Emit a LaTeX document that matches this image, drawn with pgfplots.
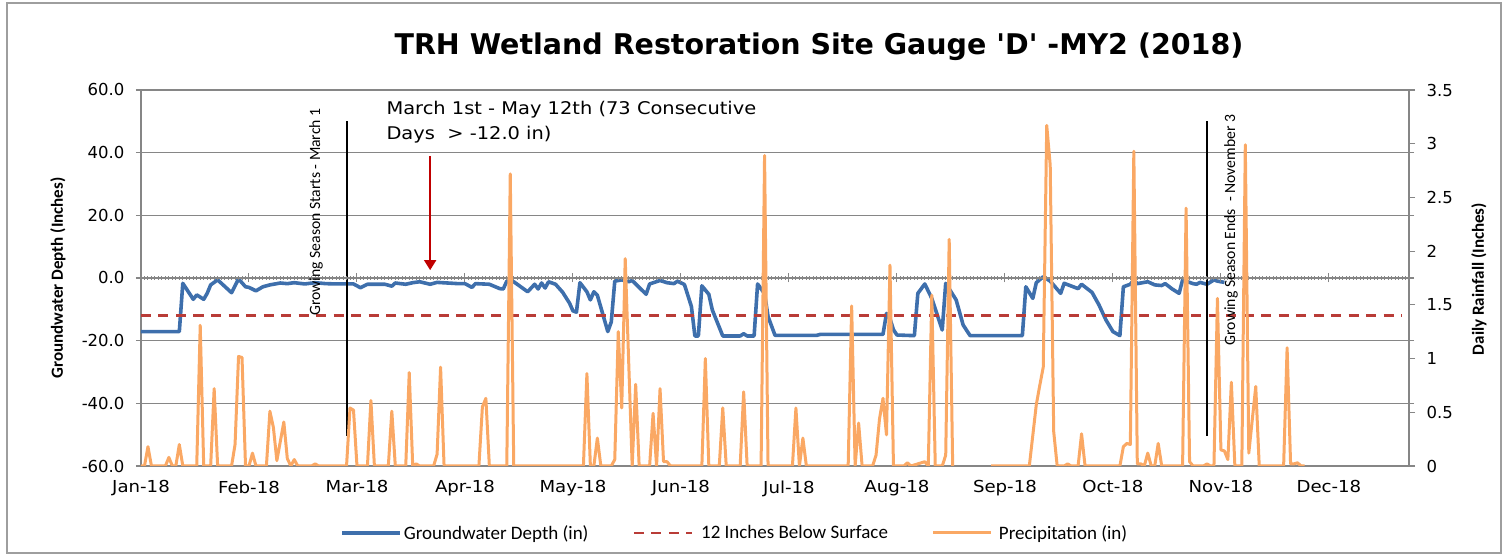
\documentclass[border=0pt]{standalone}
\usepackage{fontspec}
\setmainfont{DejaVu Sans}
\newfontfamily\calfont{Carlito}
\usepackage{pgfplots}
\usepackage{pgfplotstable}
\pgfplotsset{compat=1.18}
\usetikzlibrary{arrows.meta}
\definecolor{gwblue}{RGB}{62,111,172}
\definecolor{dred}{RGB}{185,60,55}
\definecolor{rain}{RGB}{250,168,100}
\definecolor{gridgrey}{RGB}{134,134,134}
\definecolor{arrowred}{RGB}{192,0,0}
\newcommand\tickfont{\fontsize{16.5}{20}\selectfont}
\newcommand\xl[1]{\scalebox{1.1}[1]{#1}}

\pgfplotstableread{
d v
0 -17.1
11 -17.1
12 -1.7
15 -6.8
16 -5.4
18 -6.8
19 -4.9
20 -2.2
22 -0.6
26 -4.7
28 -0.3
30 -2.8
31 -3.0
33 -4.1
35 -2.8
37 -2.2
40 -1.6
42 -1.8
44 -1.5
47 -1.9
50 -1.5
53 -1.8
56 -1.9
59 -1.9
61 -1.9
63 -3.1
65 -2.0
70 -2.0
72 -2.6
73 -1.6
76 -2.0
78 -1.5
80 -1.2
83 -2.0
85 -1.4
88 -1.6
91 -1.8
93 -1.8
95 -3.0
96 -1.8
100 -2.0
103 -3.4
104 -3.5
105 -1.0
107 -1.2
111 -4.4
113 -2.0
114 -3.5
115 -1.6
116 -3.2
117 -1.2
119 -2.0
121 -4.5
123 -8.0
124 -10.5
125 -10.9
126 -1.5
128 -4.4
129 -7.0
130 -4.4
131 -5.5
134 -17.1
135 -14.0
136 -1.0
138 -0.6
140 -1.2
141 -0.8
143 -3.0
145 -5.2
146 -1.9
149 -0.8
151 -1.5
153 -1.8
154 -1.0
156 -2.1
158 -9.1
159 -18.5
160 -18.5
161 -2.5
163 -5.2
164 -10.2
167 -18.5
172 -18.5
173 -17.8
174 -18.5
176 -18.5
177 -1.9
179 -5.0
180 -12.3
182 -18.3
194 -18.3
195 -18.0
213 -18.0
214 -11.3
215 -13.0
216 -16.5
217 -18.2
222 -18.4
223 -4.9
225 -1.9
227 -6.5
230 -16.6
231 -1.7
234 -7.0
236 -15.0
238 -18.4
253 -18.4
254 -2.8
256 -6.5
257 -1.5
259 0.4
261 -1.0
264 -4.9
265 -1.7
269 -3.4
270 -2.0
273 -4.6
275 -8.6
277 -13.4
279 -17.1
281 -18.4
282 -2.8
284 -2.0
285 -0.6
286 -1.8
289 -1.2
291 -2.2
293 -2.4
294 -1.8
296 -3.5
298 -4.9
299 -0.6
302 -1.8
303 -2.0
304 -1.4
306 -2.0
308 -0.6
309 -1.0
311 -1.4
}\gwdata

\pgfplotstableread{
d v
0 0
1 0
2 0.18
3 0
7 0
8 0.08
9 0
10 0
11 0.20
12 0
16 0
17 1.31
18 0
20 0
21 0.72
22 0
26 0
27 0.20
28 1.02
29 1.01
30 0
31 0
32 0.12
33 0
36 0
37 0.51
38 0.36
39 0.05
41 0.41
42 0.07
43 0
44 0.06
45 0
49 0
50 0.02
51 0
59 0
60 0.54
61 0.52
62 0
65 0
66 0.61
67 0
71 0
72 0.51
73 0
76 0
77 0.87
78 0
79 0.02
80 0
84 0
85 0.11
86 0.92
87 0
97 0
98 0.55
99 0.63
100 0
105 0
106 2.72
107 0
127 0
128 0.86
129 0
130 0
131 0.26
132 0
135 0
136 0.06
137 1.25
138 0.54
139 1.93
141 0
142 0.76
143 0
146 0
147 0.49
148 0
149 0.72
150 0.04
151 0.04
152 0
161 0
162 1.00
163 0
166 0
167 0.54
168 0
172 0
173 0.69
174 0
178 0
179 2.89
180 0
187 0
188 0.54
189 0
190 0.26
191 0
203 0
204 1.49
205 0
206 0.40
207 0
210 0
211 0.10
212 0.44
213 0.63
214 0.29
215 1.87
216 0
219 0
220 0.03
221 0
225 0.04
226 0
227 1.59
228 0
230 0
231 0.10
232 2.11
233 0
238 nan
244 0
255 0
257 0.57
258 0.75
259 0.92
260 3.17
261 2.80
262 0.32
263 0
265 0
266 0.02
267 0
269 0
270 0.30
271 0
281 0
282 0.18
283 0.21
284 0.20
285 2.93
286 0.02
287 0.02
288 0
289 0.12
290 0
291 0
292 0.21
293 0
299 0
300 2.40
301 0.04
302 0
305 0
306 0.02
307 0
308 0
309 1.56
310 0.15
311 0.14
312 0.06
313 0.78
314 0
316 0
317 2.99
318 0.12
320 0.74
321 0
328 0
329 1.10
330 0.02
331 0.02
332 0.03
333 0
334 0
}\raindata

\pgfplotsset{
  base/.style={width=1268pt, height=376pt, scale only axis,
    xmin=0, xmax=364, at={(0pt,0pt)}, anchor=south west},
}

\begin{document}
\begin{tikzpicture}[x=1pt,y=1pt]
\useasboundingbox (-141,-90) rectangle (1367,466);
\draw[gridgrey!80, line width=1.5pt] (-134,-87) rectangle (1360,463);

% main axis: grid, left scale, groundwater, threshold
\begin{axis}[base,
  ymin=-60, ymax=60,
  ytick={-60,-40,...,60},
  ymajorgrids, grid style={gridgrey, line width=1.3pt},
  axis line style={gridgrey, line width=1.3pt},
  xtick={0,31,62,93,124,155,186,217,248,279,310,341},
  xticklabels={\xl{Jan-18},\xl{Feb-18},\xl{Mar-18},\xl{Apr-18},\xl{May-18},\xl{Jun-18},\xl{Jul-18},\xl{Aug-18},\xl{Sep-18},\xl{Oct-18},\xl{Nov-18},\xl{Dec-18}},
  xtick style={draw=none},
  ytick style={gridgrey, line width=1.2pt},
  tick align=outside, major tick length=5pt,
  yticklabel style={font=\tickfont, xshift=-8pt,
    /pgf/number format/.cd, fixed, fixed zerofill, precision=1, assume math mode=true},
  xticklabel style={font=\tickfont, yshift=-6pt},
]
\addplot[gwblue, line width=3.6pt, line join=round] table[x=d, y=v] {\gwdata};
\addplot[dred, line width=2.6pt, dash pattern=on 10pt off 7.5pt] coordinates {(0,-12) (362,-12)};
\addplot[black, line width=2pt] coordinates {(59,50) (59,-50.5)};
\addplot[black, line width=2pt] coordinates {(306,50) (306,-50.5)};
\addplot[arrowred, line width=1.6pt, -{Triangle[length=10pt,width=12pt]}] coordinates {(83,39) (83,2.5)};
\end{axis}

% zero line with daily ticks
\begin{axis}[base,
  ymin=-60, ymax=60,
  axis x line=middle, axis y line=none,
  axis line style={gridgrey, line width=1.3pt, -},
  xtick={0,31,62,93,124,155,186,217,248,279,310,341},
  minor xtick={0,1,...,363},
  xticklabels={}, ytick=\empty,
  tick align=center, major tick length=9pt, minor tick length=4pt,
  every tick/.style={gridgrey, line width=1pt},
]
\end{axis}

% secondary axis: precipitation
\begin{axis}[base,
  ymin=0, ymax=3.5,
  axis y line*=right, axis x line=none,
  ytick={0,0.5,1,1.5,2,2.5,3,3.5},
  axis line style={gridgrey, line width=1.3pt},
  ytick style={gridgrey, line width=1.2pt},
  tick align=outside, major tick length=6pt,
  yticklabel style={font=\tickfont, xshift=8pt, /pgf/number format/assume math mode=true},
  unbounded coords=jump,
  legend columns=3,
  legend cell align=left,
  legend image code/.code={\draw[#1] (0pt,0pt) -- (58pt,0pt);},
  legend style={at={(0.157,-0.178)}, anchor=west, draw=none, fill=none,
    inner sep=0pt, font=\calfont\fontsize{19}{22}\selectfont,
    /tikz/every even column/.append style={column sep=42pt}},
]
\addlegendimage{gwblue, line width=3.6pt}
\addlegendentry{Groundwater Depth (in)}
\addlegendimage{dred, line width=2.6pt, dash pattern=on 10pt off 7.5pt}
\addlegendentry{\hspace{6pt}12 Inches Below Surface}
\addplot[rain, line width=3pt, line join=round] table[x=d, y=v] {\raindata};
\addlegendentry{\hspace{4pt}Precipitation (in)}
\end{axis}

% texts
\node[font=\fontsize{28.5}{34}\selectfont\bfseries] at (678,419) {TRH Wetland Restoration Site Gauge \textquotesingle D\textquotesingle\ -MY2 (2018)};
\node[anchor=west, font=\fontsize{17.5}{21}\selectfont] at (242,356) {\scalebox{1.11}[1]{March 1st - May 12th (73 Consecutive}};
\node[anchor=west, font=\fontsize{17.5}{21}\selectfont] at (242,331) {\scalebox{1.11}[1]{Days\ \ > -12.0 in)}};
\node[rotate=90, font=\calfont\fontsize{15.7}{18}\selectfont] at (175,254) {Growing Season Starts - March 1};
\node[rotate=90, font=\calfont\fontsize{15.7}{18}\selectfont] at (1090,236) {Growing Season Ends \ - November 3};
\node[rotate=90, font=\calfont\bfseries\fontsize{17}{20}\selectfont] at (-83,188) {Groundwater Depth (Inches)};
\node[rotate=90, font=\calfont\bfseries\fontsize{17}{20}\selectfont] at (1338,187) {Daily Rainfall (Inches)};
\end{tikzpicture}
\end{document}
